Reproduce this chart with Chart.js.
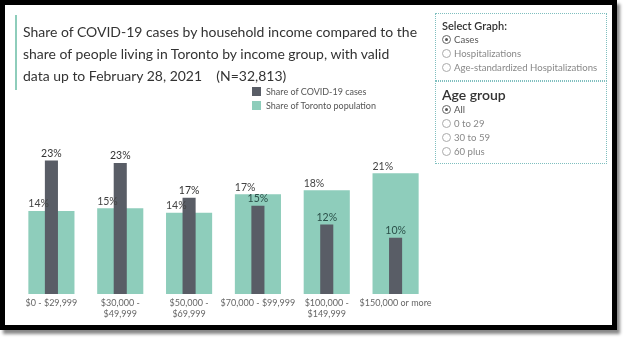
<!DOCTYPE html>
<html>
<head>
<meta charset="utf-8">
<script src="https://cdn.jsdelivr.net/npm/chart.js@4"></script>
<style>
    body { margin: 0; background: #fff; font-family: Lato, sans-serif; }
    #wrap { position: relative; width: 624px; height: 340px; overflow: hidden; }
    #frame {
        position: absolute; left: 0; top: 0; width: 607px; height: 320px;
        border: 5px solid #000; box-shadow: 3px 4px 3px #888; background: #fff;
    }
    #canva { position: absolute; left: 0; top: 0; }
    .title {
        position: absolute; left: 15px; top: 15px; padding: 6px 0 3px 6px;
        border-left: 2px solid #8ecdbb; color: #333; font-size: 15.5px;
        line-height: 22px; white-space: nowrap;
    }
    .legend { position: absolute; left: 252px; top: 87px; font-size: 9px; color: #555; }
    .legend div { height: 14px; line-height: 10px; }
    .legend span { display: inline-block; width: 9px; height: 9px; vertical-align: top; margin-right: 5px; }
    .box {
        position: absolute; left: 435px; width: 170px; border: 1px dotted #7fbfbf;
        color: #555; font-size: 9.6px;
    }
    .box h4 { margin: 0; font-weight: 600; color: #333; }
    .opt { height: 14px; line-height: 14px; padding-left: 6px; }
    .opt i {
        display: inline-block; width: 7px; height: 7px; border: 1px solid #aaa; border-radius: 50%;
        vertical-align: -1px; margin-right: 3px; position: relative;
    }
    .opt i.on::after {
        content: ''; position: absolute; left: 2px; top: 2px; width: 3px; height: 3px;
        border-radius: 50%; background: #555;
    }
    .opt i.on { border-color: #666; }
    .opt.off { color: #888; }
</style>
</head>
<body>
<div id="wrap">
    <div id="frame"></div>
    <canvas id="canva" width="624" height="340"></canvas>
    <div class="title">Share of COVID-19 cases by household income compared to the<br>share of people living in Toronto by income group, with valid<br>data up to February 28, 2021&nbsp;&nbsp;&nbsp;&nbsp;(N=32,813)</div>
    <div class="legend" id="legend"></div>
    <div class="box" style="top: 13px; height: 66px;">
        <h4 style="font-size: 11px; padding: 5px 0 1px 6px;">Select Graph:</h4>
        <div class="opt"><i class="on"></i>Cases</div>
        <div class="opt off"><i></i>Hospitalizations</div>
        <div class="opt off"><i></i>Age-standardized Hospitalizations</div>
    </div>
    <div class="box" style="top: 81px; height: 81px;">
        <h4 style="font-size: 14px; padding: 4px 0 0 6px;">Age group</h4>
        <div class="opt"><i class="on"></i>All</div>
        <div class="opt off"><i></i>0 to 29</div>
        <div class="opt off"><i></i>30 to 59</div>
        <div class="opt off"><i></i>60 plus</div>
    </div>
</div>
<script>
const incomeGroups = [
    '$0 - $29,999',
    ['$30,000 -', '$49,999'],
    ['$50,000 -', '$69,999'],
    '$70,000 - $99,999',
    ['$100,000 -', '$149,999'],
    '$150,000 or more',
];
const casesShare = [23.0, 22.6, 16.6, 15.2, 12.0, 9.7];
const populationShare = [14.3, 14.8, 14.0, 17.2, 17.9, 20.8];
const seriesNames = ['Share of COVID-19 cases', 'Share of Toronto population'];
const seriesColors = ['#595d66', '#8ecdbb'];

document.getElementById('legend').innerHTML = seriesNames
    .map((name, i) => `<div><span style="background:${seriesColors[i]}"></span>${name}</div>`)
    .join('');

// fit the title's first line to the width seen in the picture
const title = document.querySelector('.title');
const probe = document.createElement('span');
probe.textContent = 'Share of COVID-19 cases by household income compared to the';
probe.style.cssText = 'position:absolute;visibility:hidden;white-space:nowrap;font:15.5px Lato';
document.body.appendChild(probe);
title.style.fontSize = (15.5 * 394 / probe.offsetWidth).toFixed(2) + 'px';
probe.remove();

const barLabels = {
    id: 'barLabels',
    afterDatasetsDraw(chart) {
        const ctx = chart.ctx;
        ctx.save();
        ctx.font = '10.5px Lato';
        ctx.textBaseline = 'middle';
        chart.data.datasets.forEach((ds, di) => {
            const meta = chart.getDatasetMeta(di);
            meta.data.forEach((bar, i) => {
                const text = Math.round(ds.data[i]) + '%';
                if (di === 0) {
                    ctx.textAlign = 'center';
                    ctx.fillStyle = ds.data[i] < populationShare[i] ? '#2a4f48' : '#333';
                    ctx.fillText(text, bar.x, bar.y - 7);
                } else {
                    ctx.textAlign = 'left';
                    ctx.fillStyle = '#444';
                    ctx.fillText(text, bar.x - bar.width / 2, bar.y - 7);
                }
            });
        });
        ctx.restore();
    },
};

new Chart(document.getElementById('canva').getContext('2d'), {
    type: 'bar',
    data: {
        labels: incomeGroups,
        datasets: [
            {
                label: seriesNames[0],
                data: casesShare,
                backgroundColor: seriesColors[0],
                grouped: false,
                order: 0,
                categoryPercentage: 1,
                barPercentage: 0.19,
            },
            {
                label: seriesNames[1],
                data: populationShare,
                backgroundColor: seriesColors[1],
                grouped: false,
                order: 1,
                categoryPercentage: 1,
                barPercentage: 0.67,
            },
        ],
    },
    options: {
        responsive: false,
        animation: false,
        layout: { padding: { left: 17, right: 194, top: 120, bottom: 0 } },
        scales: {
            x: {
                grid: { display: false, drawTicks: false },
                border: { display: false },
                ticks: { color: '#666', font: { family: 'Lato', size: 9 }, padding: 4, maxRotation: 0, autoSkip: false },
                afterFit(scale) { scale.height = 46; },
            },
            y: { display: false, min: 0, max: 30 },
        },
        plugins: {
            legend: { display: false },
            tooltip: { enabled: false },
        },
    },
    plugins: [barLabels],
});
</script>
</body>
</html>
